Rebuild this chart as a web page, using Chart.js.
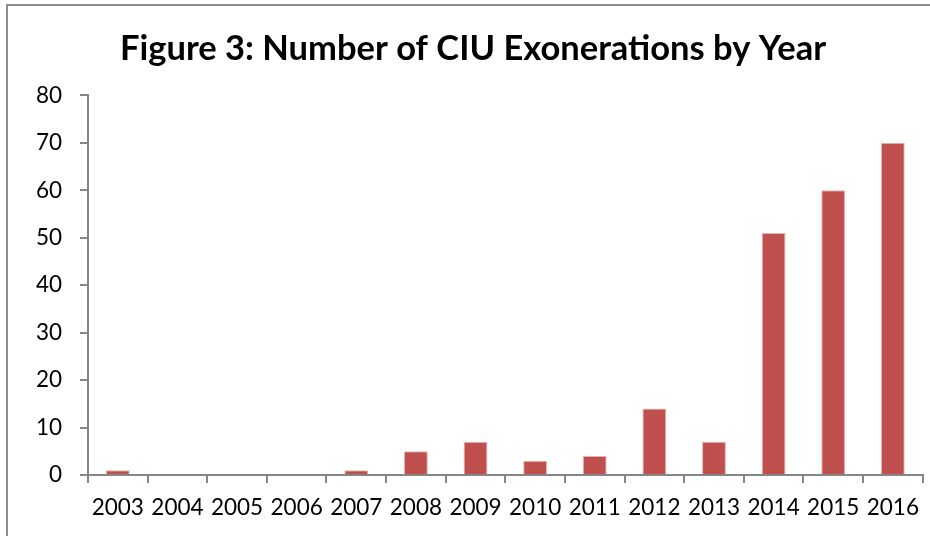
<!DOCTYPE html>
<html lang="en">
<head>
    <meta charset="UTF-8">
    <title>Figure 3: Number of CIU Exonerations by Year</title>
    <script src="https://cdn.jsdelivr.net/npm/chart.js"></script>
    <style>
        html, body { margin: 0; padding: 0; background: #fff; }
        #wrap { position: relative; width: 930px; height: 536px; overflow: hidden; }
        #frame {
            position: absolute; left: 6px; top: 4px; width: 940px; height: 560px;
            border-left: 2px solid #8c8c8c; border-top: 2px solid #8c8c8c;
        }
        canvas { position: absolute; left: 0; top: 0; }
    </style>
</head>
<body>
    <div id="wrap">
        <div id="frame"></div>
        <canvas id="chart" width="930" height="536"></canvas>
    </div>

    <script>
        // Data
        const years = ['2003', '2004', '2005', '2006', '2007', '2008', '2009',
                       '2010', '2011', '2012', '2013', '2014', '2015', '2016'];
        const exonerations = [1, 0, 0, 0, 1, 5, 7, 3, 4, 14, 7, 51, 60, 70];
        const yTicks = [0, 10, 20, 30, 40, 50, 60, 70, 80];

        const axisGrey = '#868686';

        new Chart(document.getElementById('chart').getContext('2d'), {
            type: 'bar',
            data: {
                labels: years,
                datasets: [{
                    data: exonerations,
                    backgroundColor: '#C0504D',
                    borderColor: 'rgba(230,170,168,0.9)',
                    borderWidth: 1,
                    categoryPercentage: 1,
                    barPercentage: 0.4
                }]
            },
            options: {
                responsive: false,
                animation: false,
                layout: { padding: { left: 18, right: 2, top: 0, bottom: 0 } },
                plugins: {
                    legend: { display: false },
                    tooltip: { enabled: false },
                    title: {
                        display: true,
                        text: 'Figure 3: Number of CIU Exonerations by Year',
                        color: '#000',
                        font: { family: 'Lato', size: 34.5, weight: 'bold' },
                        padding: { top: 28, bottom: 26 }
                    }
                },
                scales: {
                    x: {
                        grid: {
                            offset: true,
                            drawOnChartArea: false,
                            color: axisGrey,
                            lineWidth: 2,
                            tickLength: 8
                        },
                        border: { color: axisGrey, width: 2 },
                        ticks: {
                            color: '#000',
                            font: { family: 'Lato', size: 22.5 },
                            padding: 11,
                            maxRotation: 0,
                            autoSkip: false
                        },
                        afterFit: (scale) => { scale.height = 61; }
                    },
                    y: {
                        min: 0,
                        max: 80,
                        afterBuildTicks: (scale) => {
                            scale.ticks = yTicks.map(v => ({ value: v }));
                        },
                        grid: {
                            drawOnChartArea: false,
                            color: axisGrey,
                            lineWidth: 2,
                            tickLength: 8
                        },
                        border: { color: axisGrey, width: 2 },
                        ticks: {
                            color: '#000',
                            font: { family: 'Lato', size: 22.5 },
                            padding: 18
                        },
                        afterFit: (scale) => { scale.width = 70; }
                    }
                }
            }
        });
    </script>
</body>
</html>
